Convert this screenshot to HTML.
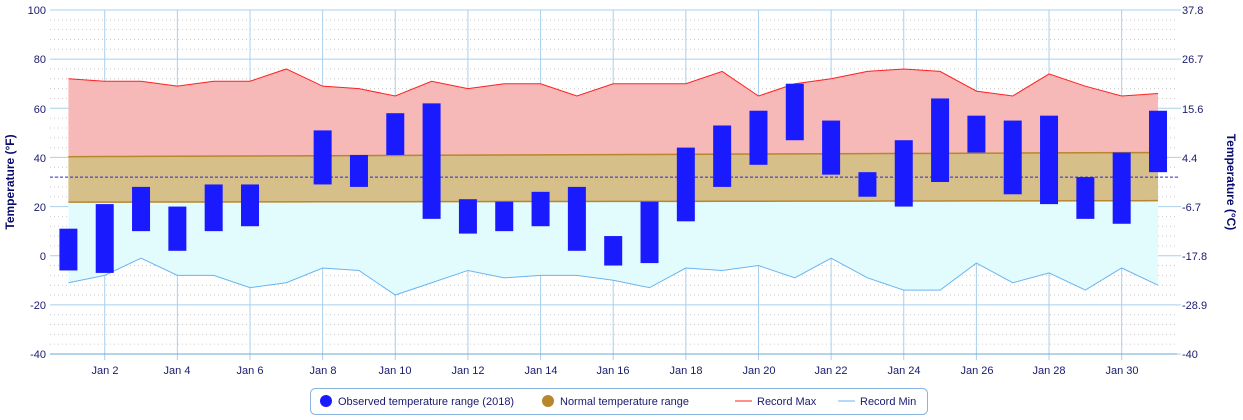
<!DOCTYPE html>
<html><head><meta charset="utf-8"><style>
body{margin:0;background:#fff;}
svg{display:block;font-family:"Liberation Sans",sans-serif;}
</style></head><body>
<svg id="s" width="1243" height="420" xmlns="http://www.w3.org/2000/svg">
<rect width="1243" height="420" fill="#fff"/>
<g id="grid"></g>
<g id="series"></g>
<g font-size="11" fill="#1a1a6e" text-anchor="end">
<text x="46" y="14">100</text><text x="46" y="63">80</text><text x="46" y="113">60</text><text x="46" y="162">40</text><text x="46" y="211">20</text><text x="46" y="260">0</text><text x="46" y="309">-20</text><text x="46" y="358">-40</text>
</g>
<g font-size="11" fill="#1a1a6e" text-anchor="start">
<text x="1182" y="14">37.8</text><text x="1182" y="63">26.7</text><text x="1182" y="113">15.6</text><text x="1182" y="162">4.4</text><text x="1182" y="211">-6.7</text><text x="1182" y="260">-17.8</text><text x="1182" y="309">-28.9</text><text x="1182" y="358">-40</text>
</g>
<g font-size="11" fill="#1a1a6e" text-anchor="middle">
<text x="105" y="374">Jan 2</text><text x="177" y="374">Jan 4</text><text x="250" y="374">Jan 6</text><text x="323" y="374">Jan 8</text><text x="395" y="374">Jan 10</text><text x="468" y="374">Jan 12</text><text x="541" y="374">Jan 14</text><text x="613" y="374">Jan 16</text><text x="686" y="374">Jan 18</text><text x="759" y="374">Jan 20</text><text x="831" y="374">Jan 22</text><text x="904" y="374">Jan 24</text><text x="977" y="374">Jan 26</text><text x="1049" y="374">Jan 28</text><text x="1122" y="374">Jan 30</text>
</g>
<text transform="translate(14,182) rotate(-90)" text-anchor="middle" font-size="12" font-weight="bold" fill="#0a0a6e">Temperature (°F)</text>
<text transform="translate(1227,182) rotate(90)" text-anchor="middle" font-size="12" font-weight="bold" fill="#0a0a6e">Temperature (°C)</text>
<rect x="310.5" y="388.5" width="617" height="26" rx="5" fill="#fff" stroke="#8ab4e0"/>
<circle cx="326" cy="401" r="6" fill="#1a1aff"/>
<text x="338" y="405" font-size="11" fill="#1a1a6e">Observed temperature range (2018)</text>
<circle cx="548" cy="401" r="6" fill="#b8862f"/>
<text x="560" y="405" font-size="11" fill="#1a1a6e">Normal temperature range</text>
<line x1="735" y1="401" x2="752" y2="401" stroke="#ff2020"/>
<text x="757" y="405" font-size="11" fill="#1a1a6e">Record Max</text>
<line x1="838" y1="401" x2="855" y2="401" stroke="#6ab4f0"/>
<text x="860" y="405" font-size="11" fill="#1a1a6e">Record Min</text>
</svg>
<script>
var NS="http://www.w3.org/2000/svg";
function Y(v){return 10+(100-v)*344/140;}
function X(d){return 68.4+(d-1)*36.32;}
function el(p,t,a){var e=document.createElementNS(NS,t);for(var k in a)e.setAttribute(k,a[k]);p.appendChild(e);return e;}
var g=document.getElementById('grid'),s=document.getElementById('series');
for(var v=-40;v<=100;v+=4){if(v%20)el(g,'line',{x1:50,x2:1177,y1:Y(v),y2:Y(v),stroke:'#ccc','stroke-dasharray':'1,3'});}
for(var v=-40;v<=100;v+=20){el(g,'line',{x1:50,x2:1181,y1:Y(v),y2:Y(v),stroke:'#a8d0ec'});}
for(var d=2;d<=30;d+=2){el(g,'line',{x1:X(d),x2:X(d),y1:10,y2:360,stroke:'#a8d0ec'});}
el(g,'line',{x1:50,x2:1177,y1:Y(-40),y2:Y(-40),stroke:'#6aa8d8'});
var rmax=[72,71,71,69,71,71,76,69,68,65,71,68,70,70,65,70,70,70,75,65,70,72,75,76,75,67,65,74,69,65,66];
var rmin=[-11,-8,-1,-8,-8,-13,-11,-5,-6,-16,-11,-6,-9,-8,-8,-10,-13,-5,-6,-4,-9,-1,-9,-14,-14,-3,-11,-7,-14,-5,-12];
var obs=[[11,-6],[21,-7],[28,10],[20,2],[29,10],[29,12],null,[51,29],[41,28],[58,41],[62,15],[23,9],[22,10],[26,12],[28,2],[8,-4],[22,-3],[44,14],[53,28],[59,37],[70,47],[55,33],[34,24],[47,20],[64,30],[57,42],[55,25],[57,21],[32,15],[42,13],[59,34]];
function nh(i){return 40.3+i*1.7/30;} function nl(i){return 21.8+i*0.6/30;}
var p1='',p2='',top='',bot='';
// record max area down to normal high
var a='M',b='';
for(var i=0;i<31;i++){a+=X(i+1)+','+Y(rmax[i])+' ';}
for(var i=30;i>=0;i--){a+='L'+X(i+1)+','+Y(nh(i))+' ';}
el(s,'path',{d:a+'Z',fill:'#f7b9b7'});
a='M';for(var i=0;i<31;i++){a+=X(i+1)+','+Y(nl(i))+' ';}
for(var i=30;i>=0;i--){a+='L'+X(i+1)+','+Y(rmin[i])+' ';}
el(s,'path',{d:a+'Z',fill:'#e2fcfd'});
a='M';for(var i=0;i<31;i++){a+=X(i+1)+','+Y(nh(i))+' ';}
for(var i=30;i>=0;i--){a+='L'+X(i+1)+','+Y(nl(i))+' ';}
el(s,'path',{d:a+'Z',fill:'#d7bf8a'});
var lh='',ll='',mx='',mn='';
for(var i=0;i<31;i++){var c=i?'L':'M';lh+=c+X(i+1)+','+Y(nh(i));ll+=c+X(i+1)+','+Y(nl(i));mx+=c+X(i+1)+','+Y(rmax[i]);mn+=c+X(i+1)+','+Y(rmin[i]);}
el(s,'path',{d:lh,fill:'none',stroke:'#b8862f','stroke-width':1.5});
el(s,'path',{d:ll,fill:'none',stroke:'#b8862f','stroke-width':1.5});
el(s,'path',{d:mx,fill:'none',stroke:'#ff2020'});
el(s,'path',{d:mn,fill:'none',stroke:'#6ab4f0'});
el(s,'line',{x1:50,x2:1180,y1:Y(32),y2:Y(32),stroke:'#2a2ad0','stroke-dasharray':'3,2'});
for(var i=0;i<31;i++){if(!obs[i])continue;var h=obs[i][0],l=obs[i][1];
el(s,'rect',{x:X(i+1)-9,y:Y(h),width:18,height:Y(l)-Y(h),fill:'#1a1aff'});}
</script>
</body></html>
